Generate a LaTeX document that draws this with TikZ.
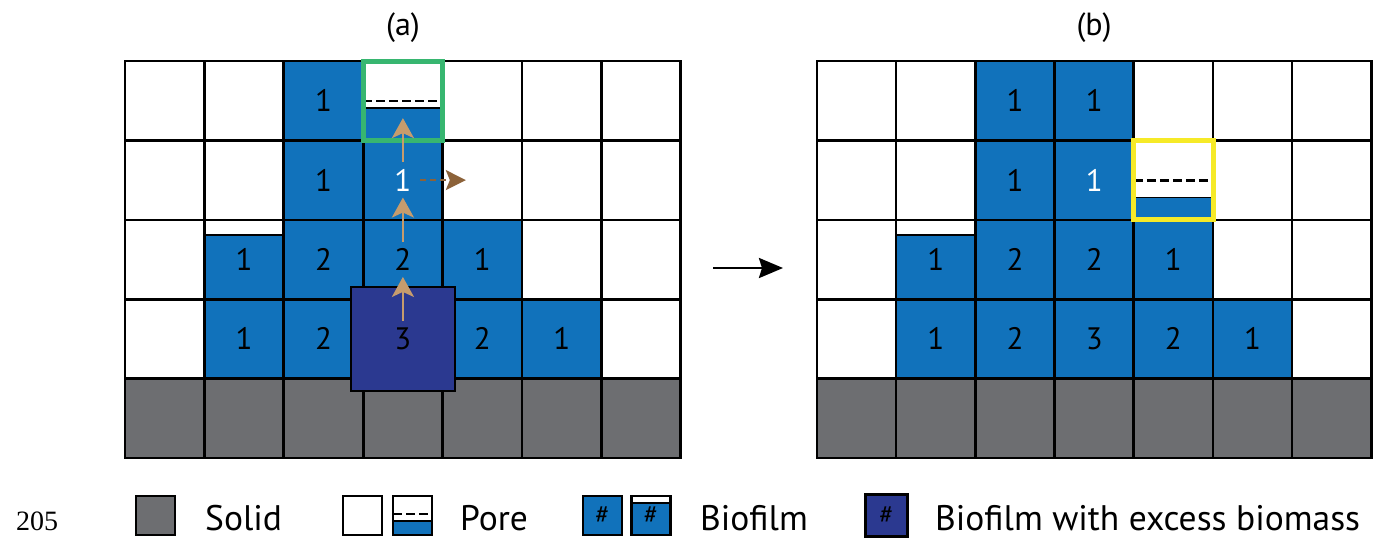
\documentclass[tikz,border=0pt]{standalone}
\usepackage{fontspec}
\setmainfont{PT Sans}
\newfontfamily\numserif{Liberation Serif}
\usetikzlibrary{arrows.meta,calc}

\definecolor{bioblue}{RGB}{17,114,187}
\definecolor{excessblue}{RGB}{43,57,144}
\definecolor{solidgray}{RGB}{109,110,113}
\definecolor{growgreen}{RGB}{55,182,112}
\definecolor{markyellow}{RGB}{246,234,40}
\definecolor{tancol}{RGB}{198,156,109}
\definecolor{browncol}{RGB}{140,98,57}

% cells of the two lattices
\newcommand\acell[4]{\node[#3] (a-#1-#2) at ({125+(#1+0.5)*79.4},{61+(#2+0.5)*79.4}) {#4};}
\newcommand\bcell[4]{\node[#3] (b-#1-#2) at ({817+(#1+0.5)*79.2},{61+(#2+0.5)*79.4}) {#4};}

\tikzset{
  cellbox/.style={draw=black, line width=2.6pt, minimum width=79.3pt, minimum height=79.4pt,
    inner sep=0pt, font=\fontsize{31}{31}\selectfont},
  pore/.style={cellbox, fill=white},
  bio/.style={cellbox, fill=bioblue},
  biow/.style={cellbox, fill=bioblue, text=white},
  solid/.style={cellbox, fill=solidgray},
  % white cell with biomass filling from a given depth below its top
  lowbio/.style={fill=white, path picture={
      \fill[bioblue] ([yshift=-#1]path picture bounding box.north west)
        rectangle (path picture bounding box.south east);
      \draw[black, line width=2pt] ([yshift=-#1]path picture bounding box.north west)
        -- ([yshift=-#1]path picture bounding box.north east);}},
  % pore with a dashed threshold line and a biomass layer
  porelevel/.style 2 args={fill=white, path picture={
      \fill[bioblue] ([yshift=-#2]path picture bounding box.north west)
        rectangle (path picture bounding box.south east);
      \draw[black, line width=1.6pt] ([yshift=-#2]path picture bounding box.north west)
        -- ([yshift=-#2]path picture bounding box.north east);
      \draw[black, line width=2.2pt, dash pattern=on 9pt off 4pt] ([yshift=-#1]path picture bounding box.north west)
        -- ([yshift=-#1]path picture bounding box.north east);}},
  excess/.style={draw=black, line width=2.6pt, fill=excessblue, inner sep=0pt},
  highlight/.style={draw=#1, line width=5pt, minimum width=79.3pt, minimum height=79.4pt, inner sep=0pt},
  growarrow/.style={draw=tancol, line width=2.8pt, -{Stealth[length=20pt,width=22pt,inset=5pt]}},
  spreadarrow/.style={draw=browncol, line width=2pt, dash pattern=on 6pt off 4pt,
    -{Stealth[length=20pt,width=20pt,inset=4pt]}},
  legbox/.style={draw=black, line width=2.6pt, minimum width=39pt, minimum height=39pt, inner sep=0pt,
    font=\fontsize{26}{26}\selectfont},
  legtext/.style={anchor=base west, inner sep=0pt, font=\fontsize{35.5}{36}\selectfont},
  panel/.style={font=\fontsize{32}{32}\selectfont}
}

\begin{document}
\begin{tikzpicture}[x=1pt,y=-1pt]
\useasboundingbox (0,0) rectangle (1374,539);

% ---------------- lattice (a) ----------------
\acell{0}{0}{pore}{} \acell{1}{0}{pore}{} \acell{2}{0}{bio}{1}
\acell{3}{0}{cellbox,porelevel={40pt}{47pt}}{}
\acell{4}{0}{pore}{} \acell{5}{0}{pore}{} \acell{6}{0}{pore}{}

\acell{0}{1}{pore}{} \acell{1}{1}{pore}{} \acell{2}{1}{bio}{1} \acell{3}{1}{biow}{1}
\acell{4}{1}{pore}{} \acell{5}{1}{pore}{} \acell{6}{1}{pore}{}

\acell{0}{2}{pore}{} \acell{1}{2}{cellbox,lowbio=15pt}{1} \acell{2}{2}{bio}{2} \acell{3}{2}{bio}{2}
\acell{4}{2}{bio}{1} \acell{5}{2}{pore}{} \acell{6}{2}{pore}{}

\acell{0}{3}{pore}{} \acell{1}{3}{bio}{1} \acell{2}{3}{bio}{2} \acell{3}{3}{bio}{}
\acell{4}{3}{bio}{2} \acell{5}{3}{bio}{1} \acell{6}{3}{pore}{}

\acell{0}{4}{solid}{} \acell{1}{4}{solid}{} \acell{2}{4}{solid}{} \acell{3}{4}{solid}{}
\acell{4}{4}{solid}{} \acell{5}{4}{solid}{} \acell{6}{4}{solid}{}

% cell holding excess biomass
\node[excess, minimum size=104pt, font=\fontsize{31}{31}\selectfont] (a-excess) at (a-3-3.center) {3};
% cell receiving the pushed biomass
\node[highlight=growgreen] (a-target) at (a-3-0.center) {};

% biomass displacement path
\draw[growarrow] ([yshift=18pt]a-excess.center) -- ([yshift=21pt]a-3-3.north);
\draw[growarrow] ([yshift=18pt]a-3-2.center) -- ([yshift=21pt]a-3-2.north);
\draw[growarrow] ([yshift=18pt]a-3-1.center) -- ([yshift=21pt]a-3-1.north);
\draw[spreadarrow] ([xshift=17pt]a-3-1.center) -- ([xshift=22pt]a-3-1.east);

% ---------------- lattice (b) ----------------
\bcell{0}{0}{pore}{} \bcell{1}{0}{pore}{} \bcell{2}{0}{bio}{1} \bcell{3}{0}{bio}{1}
\bcell{4}{0}{pore}{} \bcell{5}{0}{pore}{} \bcell{6}{0}{pore}{}

\bcell{0}{1}{pore}{} \bcell{1}{1}{pore}{} \bcell{2}{1}{bio}{1} \bcell{3}{1}{biow}{1}
\bcell{4}{1}{cellbox,porelevel={40pt}{57pt}}{}
\bcell{5}{1}{pore}{} \bcell{6}{1}{pore}{}

\bcell{0}{2}{pore}{} \bcell{1}{2}{cellbox,lowbio=15pt}{1} \bcell{2}{2}{bio}{2} \bcell{3}{2}{bio}{2}
\bcell{4}{2}{bio}{1} \bcell{5}{2}{pore}{} \bcell{6}{2}{pore}{}

\bcell{0}{3}{pore}{} \bcell{1}{3}{bio}{1} \bcell{2}{3}{bio}{2} \bcell{3}{3}{bio}{3}
\bcell{4}{3}{bio}{2} \bcell{5}{3}{bio}{1} \bcell{6}{3}{pore}{}

\bcell{0}{4}{solid}{} \bcell{1}{4}{solid}{} \bcell{2}{4}{solid}{} \bcell{3}{4}{solid}{}
\bcell{4}{4}{solid}{} \bcell{5}{4}{solid}{} \bcell{6}{4}{solid}{}

\node[highlight=markyellow] (b-target) at (b-4-1.center) {};

% ---------------- panel labels and step arrow ----------------
\node[panel] (lab-a) at (403,28) {(a)};
\node[panel] (lab-b) at (1094,28) {(b)};

\coordinate (step-from) at (713,268);
\coordinate (step-to) at (783,268);
\draw[line width=2.6pt, -{Stealth[length=24pt,width=20pt,inset=3pt]}] (step-from) -- (step-to);

% ---------------- legend ----------------
\node[anchor=base west, inner sep=0pt, font=\numserif\fontsize{28}{28}\selectfont] (linenum) at (16,530) {205};

\node[legbox, fill=solidgray] (leg-solid) at (155.5,515.5) {};
\node[legtext] (leg-solid-t) at (205,530) {Solid};

\node[legbox, fill=white] (leg-pore) at (362.5,515.5) {};
\node[legbox, porelevel={18pt}{25pt}] (leg-pore2) at (412.5,515.5) {};
\node[legtext] (leg-pore-t) at (460,530) {Pore};

\node[legbox, fill=bioblue] (leg-bio) at (602.5,515.5) {\#};
\node[legbox, lowbio=7pt] (leg-bio2) at (651,515.5) {\raisebox{-3pt}{\#}};
\node[legtext] (leg-bio-t) at (700,530) {Biofilm};

\node[legbox, fill=excessblue, minimum size=42pt] (leg-excess) at (886.5,515.5) {\#};
\node[legtext] (leg-excess-t) at (935,530) {Biofilm with excess biomass};
\end{tikzpicture}
\end{document}
